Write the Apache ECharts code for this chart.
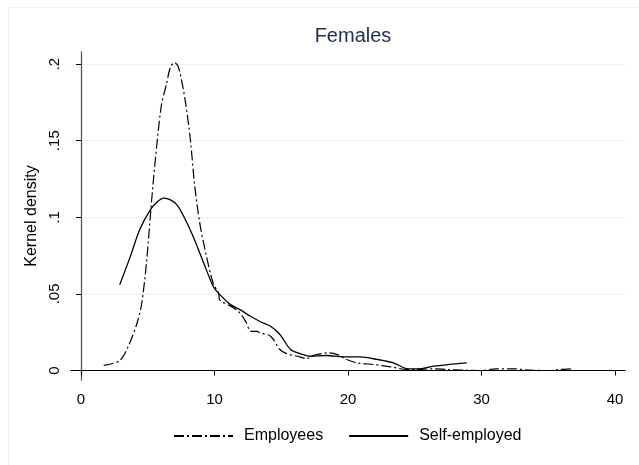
<!DOCTYPE html>
<html><head><meta charset="utf-8">
<script src="https://cdn.jsdelivr.net/npm/echarts@6/dist/echarts.min.js"></script>
<style>html,body{margin:0;padding:0;background:#fff}#c{width:639px;height:465px}</style>
</head><body><div id="c"></div>
<script>
const title = 'Females';
const xTicks = [0, 10, 20, 30, 40];
const yTicks = [0, 0.05, 0.1, 0.15, 0.2];
const yTickLabels = ['0', '.05', '.1', '.15', '.2'];
const employeesX = [1.7,2.9,3.55,4.2,4.55,4.9,5.4,6.0,6.4,6.7,7.0,7.3,7.8,8.2,8.5,8.9,9.4,9.9,10.3,10.4,11.2,11.9,12.4,12.7,13.2,13.4,14.2,14.9,15.4,16.2,16.9,17.4,18.5,19.2,19.9,20.7,21.9,23.2,24.4,25.1,26.4,27.4,28.5,29.9,31.1,32.4,33.6,35.1,35.9,36.8];
const employeesY = [0.0033,0.0065,0.016,0.031,0.044,0.070,0.122,0.172,0.187,0.198,0.201,0.198,0.1765,0.150,0.122,0.096,0.0745,0.057,0.0506,0.046,0.042,0.0376,0.031,0.0256,0.0256,0.0245,0.0224,0.0137,0.011,0.0093,0.0078,0.0098,0.0115,0.0104,0.0072,0.005,0.0039,0.0024,0.0007,0.0007,0.0011,0.0007,0.0003,0,0.0011,0.0011,0.0002,0,0.0007,0.0011];
const selfX = [2.9,3.7,4.4,5.2,5.7,6.2,6.7,7.2,7.7,8.4,9.2,9.9,10.4,11.2,11.9,12.7,13.4,14.2,14.9,15.7,16.4,17.2,18.4,19.7,20.9,22.2,23.4,24.5,25.2,26.4,27.5,28.9];
const selfY = [0.056,0.0745,0.092,0.105,0.110,0.1125,0.1114,0.108,0.1005,0.0875,0.070,0.055,0.0495,0.043,0.0397,0.0354,0.032,0.0289,0.0235,0.0137,0.011,0.0093,0.0098,0.0089,0.0089,0.0072,0.005,0.0011,0.0011,0.0028,0.0039,0.005];

const pairs = (xs, ys) => xs.map((x, i) => [x, ys[i]]);
const font = 'Liberation Sans, Arial, sans-serif';
const chart = echarts.init(document.getElementById('c'), null, {renderer: 'canvas'});
chart.setOption({
  animation: false,
  backgroundColor: '#fff',
  graphic: [{type: 'rect', shape: {x: 8.5, y: 7.5, width: 660, height: 480}, style: {fill: 'none', stroke: '#eef2f3', lineWidth: 1}, z: -1}],
  title: {text: title, left: 348, textAlign: 'center', top: 21, textStyle: {fontFamily: font, fontSize: 20, fontWeight: 'normal', color: '#1e2d52'}},
  grid: {left: 71, right: 14, top: 52, bottom: 85},
  legend: {
    left: 173, top: 428, padding: 0, itemWidth: 59, itemHeight: 12, itemGap: 25,
    itemStyle: {color: 'rgba(0,0,0,0)', borderColor: 'rgba(0,0,0,0)', borderWidth: 0, opacity: 0},
    textStyle: {fontFamily: font, fontSize: 16, color: '#000', padding: [0, 0, 0, 6]},
    data: ['Employees', 'Self-employed']
  },
  xAxis: {
    type: 'value', min: -0.75, max: 40.75,
    axisLine: {show: true, lineStyle: {color: '#000', width: 1}},
    axisTick: {show: true, length: 5, customValues: xTicks, lineStyle: {color: '#000'}},
    axisLabel: {customValues: xTicks, fontFamily: font, fontSize: 15, color: '#000', margin: 12},
    splitLine: {show: false}
  },
  yAxis: {
    type: 'value', min: -0.0062, max: 0.2079,
    name: 'Kernel density', nameLocation: 'middle', nameGap: 28, nameRotate: 90,
    nameTextStyle: {fontFamily: font, fontSize: 16, color: '#000'},
    axisLine: {show: true, lineStyle: {color: '#555', width: 1.3}},
    axisTick: {show: true, length: 5, customValues: yTicks, lineStyle: {color: '#000'}},
    axisLabel: {customValues: yTicks, rotate: 90, fontFamily: font, fontSize: 15, color: '#000', margin: 9,
      formatter: v => { const i = yTicks.findIndex(t => Math.abs(t - v) < 1e-9); return i >= 0 ? yTickLabels[i] : ''; }},
    splitLine: {show: false}
  },
  series: [
    {
      name: 'Employees', type: 'line', data: pairs(employeesX, employeesY),
      showSymbol: false, symbol: 'none', smooth: 0.3,
      lineStyle: {color: '#000', width: 1.2, type: [10, 3, 2, 3]},
      itemStyle: {color: '#000'},
      markLine: {silent: true, symbol: 'none', label: {show: false},
        lineStyle: {color: '#e8f0f1', type: 'solid', width: 1.2},
        data: yTicks.map(v => ({yAxis: v})), z: 0}
    },
    {
      name: 'Self-employed', type: 'line', data: pairs(selfX, selfY),
      showSymbol: false, symbol: 'none', smooth: 0.3,
      lineStyle: {color: '#000', width: 1.3, type: 'solid'},
      itemStyle: {color: '#000'}
    }
  ]
});
</script></body></html>
